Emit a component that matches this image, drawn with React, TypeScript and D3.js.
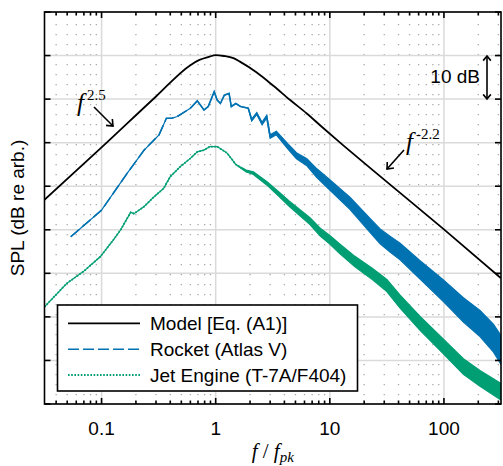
import { useEffect, useRef } from "react";
import * as d3 from "d3";

// Model [Eq. (A1)]
const modelFreq = [0.0316, 0.1, 0.3, 0.6, 0.72, 0.87, 1.0, 1.18, 1.43, 1.63, 2.29, 3.22, 4.49, 6.28, 8.8, 12.3, 31.6, 100, 316];
const modelLevel = [-43.1, -31.1, -19.4, -12.2, -11.0, -10.3, -9.9, -10.1, -10.6, -11.4, -13.9, -17.0, -20.2, -23.3, -26.7, -30.0, -39.0, -49.9, -61.1];

// Rocket (Atlas V): centre level and half-width of the noisy band (dB)
const rocketFreq = [0.0537, 0.1, 0.168, 0.236, 0.319, 0.37, 0.41, 0.46, 0.6, 0.69, 0.79, 0.86, 0.97, 1.03, 1.1, 1.19, 1.31, 1.37, 1.5, 1.65, 1.93, 2.07, 2.29, 2.55, 2.8, 3.0, 3.4, 4.3, 5.1, 6.3, 7.7, 10, 15, 22.5, 27.6, 33.7, 41.3, 61.8, 99, 148, 207, 272, 316];
const rocketLevel = [-51.6, -45.5, -37.0, -31.7, -28.2, -24.4, -24.4, -24.0, -22.1, -20.4, -22.5, -21.7, -18.3, -20.2, -21.0, -19.1, -18.7, -21.7, -21.0, -21.7, -22.1, -24.8, -23.3, -25.6, -24.0, -28.6, -27.8, -30.9, -33.0, -34.5, -37.0, -39.7, -43.9, -49.0, -51.5, -53.3, -55.0, -59.2, -64.0, -68.4, -71.5, -74.9, -77.6];
const rocketSpread = [0, 0, 0, 0, 0, 0, 0, 0, 0, 0, 0, 0, 0, 0, 0, 0, 0, 0, 0, 0, 0, 0.2, 0.2, 0.3, 0.3, 0.4, 0.4, 0.6, 0.7, 0.8, 1.0, 1.2, 1.4, 1.6, 1.7, 1.8, 1.9, 2.1, 2.5, 2.8, 3.0, 3.2, 3.3];

// Jet Engine (T-7A/F404)
const jetFreq = [0.0316, 0.0496, 0.0692, 0.0973, 0.127, 0.147, 0.18, 0.192, 0.235, 0.289, 0.35, 0.4, 0.49, 0.6, 0.69, 0.79, 0.89, 1.03, 1.12, 1.26, 1.5, 1.85, 2.14, 2.8, 3.5, 4.4, 6.7, 8.2, 10, 12, 16.6, 23.7, 31.6, 41.3, 61.8, 99, 148, 207, 316];
const jetLevel = [-67.7, -62.3, -59.6, -56.2, -52.3, -50.0, -46.0, -46.3, -44.7, -42.4, -40.5, -37.8, -35.5, -33.6, -32.1, -31.7, -30.9, -30.9, -31.5, -32.4, -35.0, -36.5, -37.0, -39.3, -41.6, -44.0, -48.0, -50.5, -52.3, -54.2, -57.3, -60.2, -62.8, -66.5, -71.5, -76.8, -81.4, -84.1, -87.2];
const jetSpread = [0, 0, 0, 0, 0, 0, 0, 0, 0, 0, 0, 0, 0, 0, 0, 0, 0, 0, 0, 0, 0, 0.2, 0.3, 0.4, 0.5, 0.6, 0.8, 0.9, 1.0, 1.1, 1.2, 1.3, 1.4, 1.5, 1.6, 1.7, 1.8, 1.8, 1.9];

const xTickValues = [0.1, 1, 10, 100];
const xTickLabels = ["0.1", "1", "10", "100"];
const yTickValues = [0, -10, -20, -30, -40, -50, -60, -70, -80, -90];
const legendLabels = ["Model [Eq. (A1)]", "Rocket (Atlas V)", "Jet Engine (T-7A/F404)"];

const BLUE = "#0072b2";
const GREEN = "#009e73";
const SANS = "'Liberation Sans', Arial, Helvetica, sans-serif";
const SERIF = "'Liberation Serif', 'DejaVu Serif', 'Times New Roman', serif";

const App = () => {
    const chartRef = useRef<SVGSVGElement>(null);

    useEffect(() => {
        const svg = d3.select(chartRef.current);
        svg.selectAll("*").remove();

        const width = 503;
        const height = 466;
        const plot = { left: 44.5, right: 501, top: 12, bottom: 404 };

        svg.attr("width", width).attr("height", height).attr("viewBox", `0 0 ${width} ${height}`);

        const x = d3.scaleLog().domain([10 ** -1.5, 10 ** 2.5]).range([plot.left, plot.right]);
        const y = d3.scaleLinear().domain([-90, 0]).range([plot.bottom, plot.top]);

        const minorX = x.ticks().filter((v) => !xTickValues.some((t) => Math.abs(t - v) / t < 1e-6));

        svg.append("defs").append("clipPath").attr("id", "plotclip")
            .append("rect")
            .attr("x", plot.left).attr("y", plot.top)
            .attr("width", plot.right - plot.left).attr("height", plot.bottom - plot.top);

        // grid
        const grid = svg.append("g");
        grid.selectAll("line.minor")
            .data(minorX)
            .join("line")
            .attr("x1", (d) => x(d)).attr("x2", (d) => x(d))
            .attr("y1", plot.top).attr("y2", plot.bottom)
            .attr("stroke", "#a9a9a9")
            .attr("stroke-width", 1.3)
            .attr("stroke-dasharray", "1.3,8.7")
            .attr("stroke-dashoffset", -2);
        grid.selectAll("line.vmaj")
            .data(xTickValues)
            .join("line")
            .attr("x1", (d) => x(d)).attr("x2", (d) => x(d))
            .attr("y1", plot.top).attr("y2", plot.bottom)
            .attr("stroke", "#dadada")
            .attr("stroke-width", 1.5);
        grid.selectAll("line.hmaj")
            .data(yTickValues)
            .join("line")
            .attr("x1", plot.left).attr("x2", plot.right)
            .attr("y1", (d) => y(d)).attr("y2", (d) => y(d))
            .attr("stroke", "#dadada")
            .attr("stroke-width", 1.5);

        const data = svg.append("g").attr("clip-path", "url(#plotclip)");

        const band = (f: number[], lv: number[], sp: number[]) =>
            d3.area<number>()
                .x((i) => x(f[i]))
                .y0((i) => y(lv[i] - sp[i]))
                .y1((i) => y(lv[i] + sp[i]))(d3.range(f.length));
        const line = (f: number[], lv: number[], idx: number[]) =>
            d3.line<number>().x((i) => x(f[i])).y((i) => y(lv[i]))(idx);

        // Jet engine
        data.append("path")
            .attr("d", band(jetFreq, jetLevel, jetSpread))
            .attr("fill", GREEN).attr("stroke", GREEN).attr("stroke-width", 1.2);
        data.append("path")
            .attr("d", line(jetFreq, jetLevel, d3.range(jetFreq.length)))
            .attr("fill", "none").attr("stroke", GREEN)
            .attr("stroke-width", 1.8).attr("stroke-dasharray", "1.6,1.6");

        // Rocket
        const split = rocketFreq.findIndex((f) => f >= 0.6);
        data.append("path")
            .attr("d", band(rocketFreq, rocketLevel, rocketSpread))
            .attr("fill", BLUE).attr("stroke", BLUE).attr("stroke-width", 1.2);
        data.append("path")
            .attr("d", line(rocketFreq, rocketLevel, d3.range(0, split + 1)))
            .attr("fill", "none").attr("stroke", BLUE)
            .attr("stroke-width", 1.6).attr("stroke-dasharray", "11,4");
        data.append("path")
            .attr("d", line(rocketFreq, rocketLevel, d3.range(split, rocketFreq.length)))
            .attr("fill", "none").attr("stroke", BLUE)
            .attr("stroke-width", 1.6);

        // Model
        data.append("path")
            .attr("d", d3.line<number>().x((i) => x(modelFreq[i])).y((i) => y(modelLevel[i]))
                .curve(d3.curveMonotoneX)(d3.range(modelFreq.length)))
            .attr("fill", "none").attr("stroke", "#000").attr("stroke-width", 1.8);

        // axes box and ticks
        const ax = svg.append("g").attr("stroke", "#000").attr("stroke-width", 1.6);
        ax.append("rect")
            .attr("x", plot.left).attr("y", plot.top)
            .attr("width", plot.right - plot.left).attr("height", plot.bottom - plot.top)
            .attr("fill", "none");
        const tick = (vals: number[], len: number) => {
            vals.forEach((v) => {
                ax.append("line").attr("x1", x(v)).attr("x2", x(v)).attr("y1", plot.bottom).attr("y2", plot.bottom - len);
                ax.append("line").attr("x1", x(v)).attr("x2", x(v)).attr("y1", plot.top).attr("y2", plot.top + len);
            });
        };
        tick(xTickValues, 6);
        tick(minorX, 3.5);
        yTickValues.forEach((v) => {
            ax.append("line").attr("x1", plot.left).attr("x2", plot.left + 6).attr("y1", y(v)).attr("y2", y(v));
            ax.append("line").attr("x1", plot.right).attr("x2", plot.right - 6).attr("y1", y(v)).attr("y2", y(v));
        });

        svg.selectAll("text.xtick")
            .data(xTickValues)
            .join("text")
            .attr("x", (d) => x(d))
            .attr("y", 435)
            .attr("text-anchor", "middle")
            .style("font-family", SANS)
            .attr("font-size", 19)
            .text((d, i) => xTickLabels[i]);

        // axis titles
        const xl = svg.append("text")
            .attr("x", (plot.left + plot.right) / 2)
            .attr("y", 458)
            .attr("text-anchor", "middle")
            .style("font-family", SERIF)
            .attr("font-size", 21);
        xl.append("tspan").style("font-style", "italic").text("f");
        xl.append("tspan").text(" / ");
        xl.append("tspan").style("font-style", "italic").text("f");
        xl.append("tspan").style("font-style", "italic").attr("font-size", 15).attr("dy", 4).text("pk");

        svg.append("text")
            .attr("transform", `translate(24,${(plot.top + plot.bottom) / 2}) rotate(-90)`)
            .attr("text-anchor", "middle")
            .style("font-family", SANS)
            .attr("font-size", 19)
            .text("SPL (dB re arb.)");

        // annotations
        const arrow = (x1: number, y1: number, x2: number, y2: number, head = 7) => {
            const a = Math.atan2(y2 - y1, x2 - x1);
            const g = svg.append("g").attr("stroke", "#000").attr("stroke-width", 1.6).attr("fill", "none");
            g.append("line").attr("x1", x1).attr("y1", y1).attr("x2", x2).attr("y2", y2);
            const p = [a + Math.PI * 0.78, a - Math.PI * 0.78].map((b) => [x2 + head * Math.cos(b), y2 + head * Math.sin(b)]);
            g.append("path").attr("d", `M${p[0][0]},${p[0][1]}L${x2},${y2}L${p[1][0]},${p[1][1]}`);
        };

        const power = (px: number, py: number, exp: string) => {
            const t = svg.append("text").attr("x", px).attr("y", py).style("font-family", SERIF);
            t.append("tspan").style("font-style", "italic").attr("font-size", 25).text("f");
            t.append("tspan").attr("font-size", 15).attr("dx", 3).attr("dy", -11).text(exp);
        };
        power(77, 111, "2.5");
        arrow(94, 107, 113, 126);
        power(406, 150, "-2.2");
        arrow(404, 150, 387, 169);

        arrow(487, 77, 487, 56, 6);
        arrow(487, 77, 487, 99, 6);
        svg.append("text")
            .attr("x", 480).attr("y", 83)
            .attr("text-anchor", "end")
            .style("font-family", SANS)
            .attr("font-size", 19)
            .text("10 dB");

        // legend
        const lg = svg.append("g");
        lg.append("rect")
            .attr("x", 57.5).attr("y", 305)
            .attr("width", 300).attr("height", 86)
            .attr("fill", "#fff").attr("stroke", "#000").attr("stroke-width", 1.6);
        const rows = [323.3, 349.3, 375];
        const styles = [
            { stroke: "#000", dash: null, w: 1.8 },
            { stroke: BLUE, dash: "11,4", w: 1.6 },
            { stroke: GREEN, dash: "1.6,1.6", w: 1.8 },
        ];
        legendLabels.forEach((lab, i) => {
            lg.append("line")
                .attr("x1", 68).attr("x2", 140).attr("y1", rows[i]).attr("y2", rows[i])
                .attr("stroke", styles[i].stroke).attr("stroke-width", styles[i].w)
                .attr("stroke-dasharray", styles[i].dash);
            lg.append("text")
                .attr("x", 150).attr("y", rows[i] + 7)
                .style("font-family", SANS)
                .attr("font-size", 19)
                .text(lab);
        });
    }, []);

    return (
        <div style={{ position: "absolute", left: 0, top: 0 }}>
            <svg ref={chartRef} style={{ display: "block" }}></svg>
        </div>
    );
};

export default App;
